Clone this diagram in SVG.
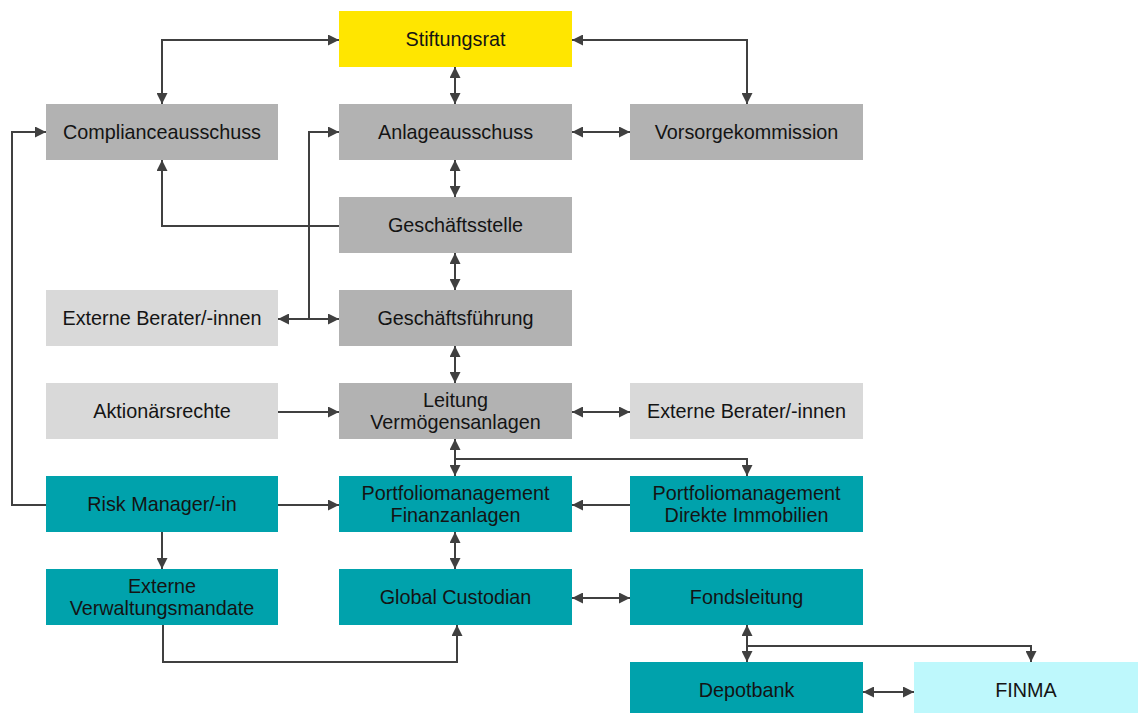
<svg xmlns="http://www.w3.org/2000/svg" width="1138" height="713" viewBox="0 0 1138 713">
<style>
.box{stroke:none}
.y{fill:#FFE600}
.g{fill:#B2B2B2}
.lg{fill:#D9D9D9}
.t{fill:#00A2AC}
.c{fill:#BEF8FC}
text{font-family:"Liberation Sans",Arial,sans-serif;font-size:19.8px;fill:#141414;text-anchor:middle;dominant-baseline:central}
.ln{fill:none;stroke:#404040;stroke-width:2}
.a2{marker-start:url(#ah);marker-end:url(#ah)}
.a1{marker-end:url(#ah)}
</style>
<defs>
<marker id="ah" markerUnits="userSpaceOnUse" markerWidth="11" markerHeight="11" refX="10" refY="5" orient="auto-start-reverse" viewBox="0 0 10 10">
<path d="M0,0 L10,5 L0,10 z" fill="#404040"/>
</marker>
</defs>
<rect width="1138" height="713" fill="#FFFFFF"/>
<g id="connectors">
<path class="ln a2" d="M339,40 H162 V104"/>
<path class="ln a2" d="M572,40 H747 V104"/>
<path class="ln a2" d="M455,67 V104"/>
<path class="ln a2" d="M572,132 H630"/>
<path class="ln a2" d="M455,160 V197"/>
<path class="ln a1" d="M339,226 H162 V160"/>
<path class="ln a1" d="M309,319 V132 H339"/>
<path class="ln a2" d="M278,319 H339"/>
<path class="ln a2" d="M455,253 V290"/>
<path class="ln a2" d="M455,346 V383"/>
<path class="ln a1" d="M278,412 H339"/>
<path class="ln a2" d="M572,412 H630"/>
<path class="ln a2" d="M455,439 V476"/>
<path class="ln a1" d="M455,459 H747 V476"/>
<path class="ln a1" d="M278,505 H339"/>
<path class="ln a1" d="M630,505 H572"/>
<path class="ln a1" d="M46,505 H12 V132 H46"/>
<path class="ln a1" d="M162,532 V569"/>
<path class="ln a1" d="M163,625 V662 H457 V625"/>
<path class="ln a2" d="M455,532 V569"/>
<path class="ln a2" d="M572,598 H630"/>
<path class="ln a2" d="M747,625 V662"/>
<path class="ln a1" d="M747,646 H1031 V662"/>
<path class="ln a2" d="M863,692 H914"/>
</g>
<g id="stiftungsrat"><rect class="box y" x="339" y="11" width="233" height="56"/><text x="455.5" y="39">Stiftungsrat</text></g>
<g id="complianceausschuss"><rect class="box g" x="46" y="104" width="232" height="56"/><text x="162" y="132">Complianceausschuss</text></g>
<g id="anlageausschuss"><rect class="box g" x="339" y="104" width="233" height="56"/><text x="455.5" y="132">Anlageausschuss</text></g>
<g id="vorsorgekommission"><rect class="box g" x="630" y="104" width="233" height="56"/><text x="746.5" y="132">Vorsorgekommission</text></g>
<g id="geschaeftsstelle"><rect class="box g" x="339" y="197" width="233" height="56"/><text x="455.5" y="225">Geschäftsstelle</text></g>
<g id="externe-berater-links"><rect class="box lg" x="46" y="290" width="232" height="56"/><text x="162" y="318">Externe Berater/-innen</text></g>
<g id="geschaeftsfuehrung"><rect class="box g" x="339" y="290" width="233" height="56"/><text x="455.5" y="318">Geschäftsführung</text></g>
<g id="aktionaersrechte"><rect class="box lg" x="46" y="383" width="232" height="56"/><text x="162" y="411">Aktionärsrechte</text></g>
<g id="leitung-vermoegensanlagen"><rect class="box g" x="339" y="383" width="233" height="56"/><text x="455.5" y="400">Leitung</text><text x="455.5" y="422">Vermögensanlagen</text></g>
<g id="externe-berater-rechts"><rect class="box lg" x="630" y="383" width="233" height="56"/><text x="746.5" y="411">Externe Berater/-innen</text></g>
<g id="risk-manager"><rect class="box t" x="46" y="476" width="232" height="56"/><text x="162" y="504">Risk Manager/-in</text></g>
<g id="pm-finanzanlagen"><rect class="box t" x="339" y="476" width="233" height="56"/><text x="455.5" y="493">Portfoliomanagement</text><text x="455.5" y="515">Finanzanlagen</text></g>
<g id="pm-direkte-immobilien"><rect class="box t" x="630" y="476" width="233" height="56"/><text x="746.5" y="493">Portfoliomanagement</text><text x="746.5" y="515">Direkte Immobilien</text></g>
<g id="externe-verwaltungsmandate"><rect class="box t" x="46" y="569" width="232" height="56"/><text x="162" y="586">Externe</text><text x="162" y="608">Verwaltungsmandate</text></g>
<g id="global-custodian"><rect class="box t" x="339" y="569" width="233" height="56"/><text x="455.5" y="597">Global Custodian</text></g>
<g id="fondsleitung"><rect class="box t" x="630" y="569" width="233" height="56"/><text x="746.5" y="597">Fondsleitung</text></g>
<g id="depotbank"><rect class="box t" x="630" y="662" width="233" height="51"/><text x="746.5" y="690">Depotbank</text></g>
<g id="finma"><rect class="box c" x="914" y="662" width="224" height="51"/><text x="1026" y="690">FINMA</text></g>
</svg>
